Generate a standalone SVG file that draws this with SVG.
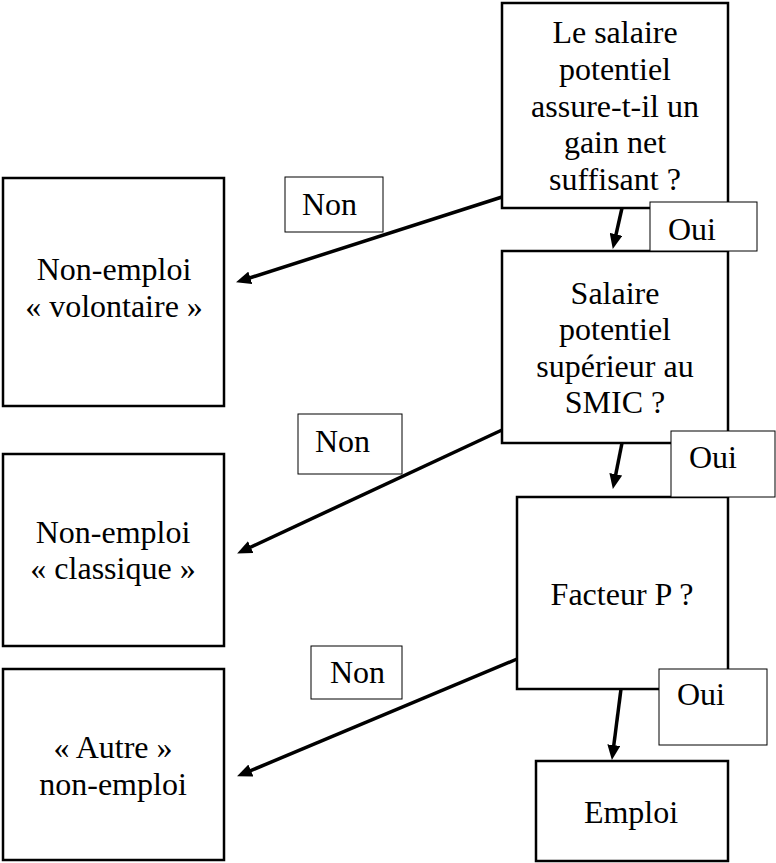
<svg xmlns="http://www.w3.org/2000/svg" width="776" height="863" viewBox="0 0 776 863" font-family="Liberation Serif, DejaVu Serif, serif">
<style>
.node{fill:#fff;stroke:#000;stroke-width:2.5}
.lbl{fill:#fff;stroke:#000;stroke-width:1}
.t{font-family:"Liberation Serif","DejaVu Serif",serif;font-size:32px;fill:#000}
.m{text-anchor:middle}
.arr{stroke:#000;stroke-width:3.5;fill:none;marker-end:url(#ah)}
</style>
<defs>
<marker id="ah" markerUnits="userSpaceOnUse" markerWidth="15" markerHeight="13" refX="4" refY="6.5" orient="auto">
<path d="M0,0 L15,6.5 L0,13 z" fill="#000"/>
</marker>
</defs>
<rect width="776" height="863" fill="#fff"/>
<g id="q1">
<rect class="node" x="502" y="3" width="226" height="205"/>
<text class="t m" x="615" y="43">Le salaire</text>
<text class="t m" x="615" y="80">potentiel</text>
<text class="t m" x="615" y="117">assure-t-il un</text>
<text class="t m" x="615" y="153">gain net</text>
<text class="t m" x="615" y="190">suffisant ?</text>
</g>
<g id="q2">
<rect class="node" x="502" y="251" width="226" height="192"/>
<text class="t m" x="615" y="304">Salaire</text>
<text class="t m" x="615" y="340">potentiel</text>
<text class="t m" x="615" y="377">supérieur au</text>
<text class="t m" x="615" y="413">SMIC ?</text>
</g>
<g id="q3">
<rect class="node" x="517" y="497" width="211" height="192"/>
<text class="t m" x="622" y="605">Facteur P ?</text>
</g>
<g id="emploi">
<rect class="node" x="536" y="761" width="192" height="100"/>
<text class="t m" x="631" y="823">Emploi</text>
</g>
<g id="volontaire">
<rect class="node" x="3" y="178" width="221" height="228"/>
<text class="t m" x="114" y="280">Non-emploi</text>
<text class="t m" x="114" y="317">« volontaire »</text>
</g>
<g id="classique">
<rect class="node" x="3" y="454" width="221" height="192"/>
<text class="t m" x="113" y="543">Non-emploi</text>
<text class="t m" x="113" y="579">« classique »</text>
</g>
<g id="autre">
<rect class="node" x="3" y="669" width="221" height="191"/>
<text class="t m" x="113" y="758">« Autre »</text>
<text class="t m" x="113" y="795">non-emploi</text>
</g>
<g id="connectors">
<rect class="lbl" x="650" y="202" width="107" height="49"/>
<text class="t" x="668" y="240">Oui</text>
<rect class="lbl" x="671" y="431" width="104" height="66"/>
<text class="t" x="689" y="468">Oui</text>
<rect class="lbl" x="659" y="669" width="108" height="76"/>
<text class="t" x="677" y="705">Oui</text>
<rect class="lbl" x="285" y="177" width="98" height="55"/>
<text class="t" x="302" y="215">Non</text>
<rect class="lbl" x="298" y="414" width="104" height="60"/>
<text class="t" x="315" y="452">Non</text>
<rect class="lbl" x="311" y="646" width="91" height="53"/>
<text class="t" x="330" y="683">Non</text>
<line class="arr" x1="622" y1="208" x2="615.2" y2="238.2"/>
<line class="arr" x1="622" y1="443" x2="615" y2="478.2"/>
<line class="arr" x1="621" y1="689" x2="613.3" y2="749.1"/>
<line class="arr" x1="502" y1="197" x2="246.5" y2="279"/>
<line class="arr" x1="502" y1="430" x2="247.1" y2="548.8"/>
<line class="arr" x1="517" y1="659" x2="247.2" y2="772.1"/>
</g>
</svg>
